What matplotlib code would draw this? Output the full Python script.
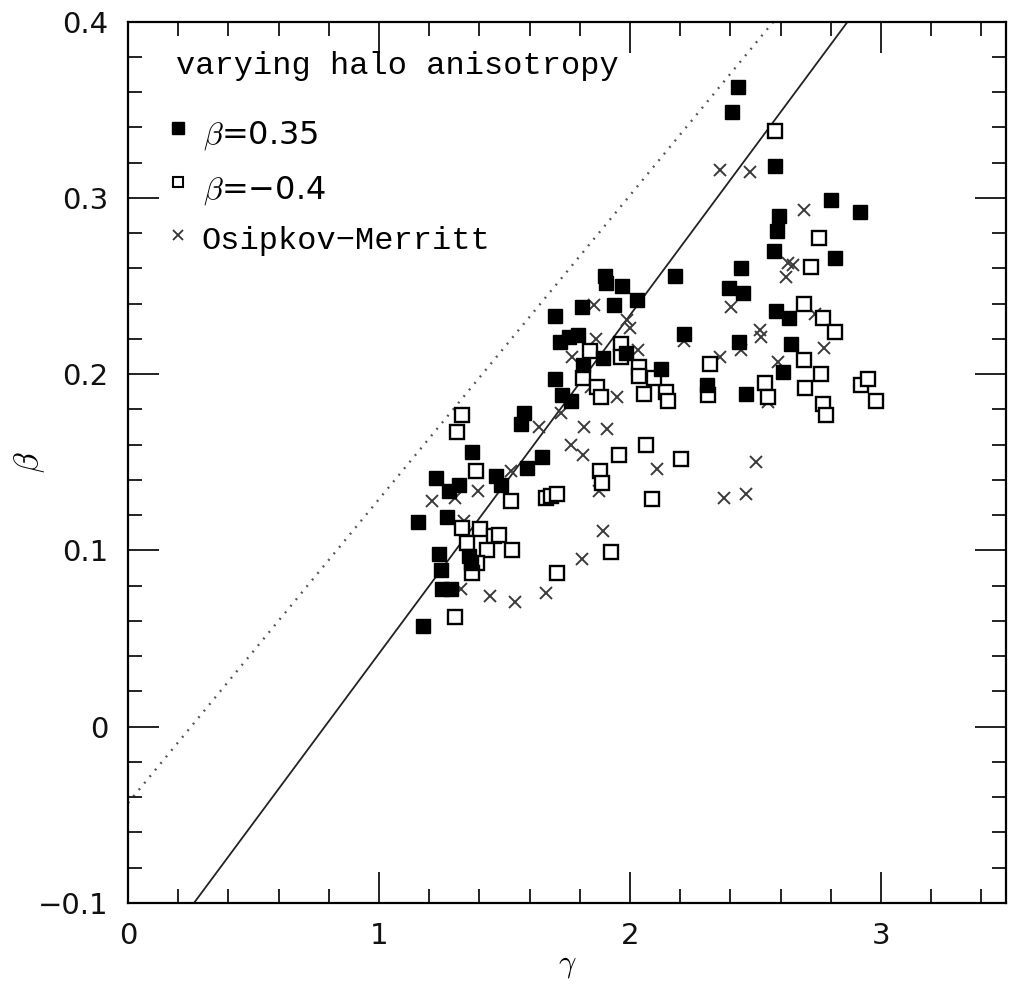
import numpy as np
import matplotlib
matplotlib.use("Agg")
import matplotlib.pyplot as plt
from matplotlib.ticker import MultipleLocator

plt.rcParams['mathtext.fontset'] = 'cm'

# beta = 0.35 (filled squares)
filled_gamma = [2.432, 2.408, 2.578, 2.801, 2.916, 2.594, 2.586, 2.575, 2.817, 2.181,
                2.443, 2.396, 2.451, 2.582, 2.634, 2.217, 2.435, 2.642, 2.122, 2.610,
                2.308, 2.463, 1.899, 1.903, 1.967, 2.026, 1.808, 1.935, 1.700, 1.720,
                1.756, 1.792, 1.891, 1.983, 1.812, 1.700, 1.728, 1.764, 1.577, 1.565,
                1.371, 1.649, 1.589, 1.228, 1.279, 1.319, 1.466, 1.486, 1.156, 1.271,
                1.240, 1.359, 1.367, 1.248, 1.251, 1.287, 1.176]
filled_beta = [0.363, 0.349, 0.318, 0.299, 0.292, 0.290, 0.281, 0.270, 0.266, 0.256,
               0.260, 0.249, 0.246, 0.236, 0.232, 0.223, 0.218, 0.217, 0.203, 0.201,
               0.194, 0.189, 0.256, 0.252, 0.250, 0.242, 0.238, 0.239, 0.233, 0.218,
               0.221, 0.222, 0.209, 0.212, 0.205, 0.197, 0.188, 0.185, 0.178, 0.172,
               0.156, 0.153, 0.147, 0.141, 0.134, 0.137, 0.142, 0.137, 0.116, 0.119,
               0.098, 0.097, 0.093, 0.089, 0.078, 0.078, 0.057]

# beta = -0.4 (open squares)
open_gamma = [2.578, 2.753, 2.722, 2.694, 2.769, 2.817, 2.694, 2.761, 2.698, 2.539,
              2.551, 2.769, 2.781, 2.320, 2.312, 2.145, 2.153, 2.094, 2.034, 2.034,
              2.054, 2.920, 2.948, 2.980, 2.205, 2.062, 1.955, 1.879, 1.887, 2.086,
              1.840, 1.963, 1.963, 1.812, 1.867, 1.883, 1.331, 1.311, 1.387, 1.526,
              1.665, 1.685, 1.708, 1.331, 1.402, 1.458, 1.478, 1.351, 1.430, 1.530,
              1.391, 1.371, 1.708, 1.923, 1.303]
open_beta = [0.338, 0.277, 0.261, 0.240, 0.232, 0.224, 0.208, 0.200, 0.192, 0.195,
             0.187, 0.183, 0.177, 0.206, 0.188, 0.190, 0.185, 0.198, 0.204, 0.199,
             0.189, 0.194, 0.197, 0.185, 0.152, 0.160, 0.154, 0.145, 0.138, 0.129,
             0.213, 0.217, 0.210, 0.198, 0.193, 0.187, 0.177, 0.167, 0.145, 0.128,
             0.130, 0.131, 0.132, 0.113, 0.112, 0.108, 0.109, 0.104, 0.100, 0.100,
             0.093, 0.087, 0.087, 0.099, 0.062]

# Osipkov-Merritt (crosses)
om_gamma = [2.360, 2.479, 2.694, 2.630, 2.650, 2.622, 2.404, 2.737, 2.519, 2.523,
            2.773, 2.217, 2.443, 2.360, 2.590, 2.551, 2.503, 2.376, 2.463, 2.106,
            1.855, 1.987, 2.002, 1.863, 1.768, 2.030, 1.843, 1.947, 1.724, 1.816,
            1.907, 1.637, 1.764, 1.812, 1.526, 1.395, 1.303, 1.212, 1.339, 1.875,
            1.891, 1.808, 1.665, 1.542, 1.442, 1.327]
om_beta = [0.316, 0.315, 0.293, 0.263, 0.262, 0.255, 0.238, 0.234, 0.225, 0.221,
           0.215, 0.219, 0.214, 0.210, 0.207, 0.184, 0.150, 0.130, 0.132, 0.146,
           0.239, 0.231, 0.226, 0.220, 0.210, 0.214, 0.193, 0.187, 0.178, 0.170,
           0.169, 0.170, 0.160, 0.154, 0.145, 0.134, 0.130, 0.128, 0.117, 0.134,
           0.111, 0.095, 0.076, 0.071, 0.074, 0.078]

# reference lines: beta = slope * gamma + intercept
solid_slope, solid_intercept = 0.192, -0.1505
dotted_slope, dotted_intercept = 0.1724, -0.0433

x_limits = (0, 3.5)
y_limits = (-0.1, 0.4)
x_ticks = [0, 1, 2, 3]
y_ticks = [-0.1, 0, 0.1, 0.2, 0.3, 0.4]
y_tick_labels = ['\u22120.1', '0', '0.1', '0.2', '0.3', '0.4']

fig = plt.figure(figsize=(10.14, 9.86), dpi=100)
ax = fig.add_axes([0.1262, 0.0842, 0.8664, 0.8938])

g = np.linspace(x_limits[0], x_limits[1], 200)
ax.plot(g, solid_slope * g + solid_intercept, color='#222222', lw=1.3, zorder=1)
ax.plot(g, dotted_slope * g + dotted_intercept, color='#555555', lw=1.7,
        linestyle=(0, (0.8, 2.8)), zorder=1)

ax.plot(om_gamma, om_beta, linestyle='none', marker='x', ms=9, mew=1.4,
        color='#3a3a3a', zorder=2)
ax.plot(open_gamma, open_beta, linestyle='none', marker='s', ms=9.5, mew=1.7,
        mfc='white', mec='black', zorder=3)
ax.plot(filled_gamma, filled_beta, linestyle='none', marker='s', ms=10.5,
        mfc='black', mec='black', zorder=4)

ax.set_xlim(*x_limits)
ax.set_ylim(*y_limits)
ax.set_xticks(x_ticks)
ax.set_yticks(y_ticks)
ax.set_yticklabels(y_tick_labels)
ax.xaxis.set_minor_locator(MultipleLocator(0.2))
ax.yaxis.set_minor_locator(MultipleLocator(0.02))
ax.tick_params(which='both', direction='in', top=True, right=True,
               labelsize=21, pad=14, colors='#111111')
ax.tick_params(which='major', length=22, width=1.3)
ax.tick_params(which='minor', length=10, width=1.3)
for lab in ax.get_xticklabels() + ax.get_yticklabels():
    lab.set_family('DejaVu Sans')
for sp in ax.spines.values():
    sp.set_linewidth(1.6)

ax.set_xlabel(r'$\gamma$', fontsize=22)
ax.set_ylabel(r'$\beta$', fontsize=24)
ax.xaxis.set_label_coords(0.5, -0.0705)
ax.xaxis.label.set_va('center')
ax.yaxis.set_label_coords(-0.1116, 0.50)
ax.yaxis.label.set_va('center')

# legend drawn as text in axes coordinates
tx = lambda px: (px - 128) / 878.5
ty = lambda py: (903 - py) / 881.3
ax.text(tx(176), ty(66), 'varying halo anisotropy', family='Liberation Mono',
        fontsize=23, va='center', ha='left', transform=ax.transAxes)
ax.plot([tx(178)], [ty(128)], marker='s', ms=8.5, color='black',
        transform=ax.transAxes, clip_on=False)
ax.plot([tx(178)], [ty(182)], marker='s', ms=7.5, mfc='white', mec='black', mew=1.5,
        transform=ax.transAxes, clip_on=False)
ax.plot([tx(178)], [ty(235)], marker='x', ms=7.5, mew=1.3, color='#333333',
        transform=ax.transAxes, clip_on=False)
ax.text(tx(203), ty(136), '$\\beta$=0.35', family='DejaVu Sans', fontsize=23,
        va='center', ha='left', transform=ax.transAxes)
ax.text(tx(203), ty(191), '$\\beta$=\u22120.4', family='DejaVu Sans', fontsize=23,
        va='center', ha='left', transform=ax.transAxes)
ax.text(tx(201), ty(241), 'Osipkov\u2212Merritt', family='Liberation Mono', fontsize=23,
        va='center', ha='left', transform=ax.transAxes)

fig.savefig('out.png', dpi=100)
